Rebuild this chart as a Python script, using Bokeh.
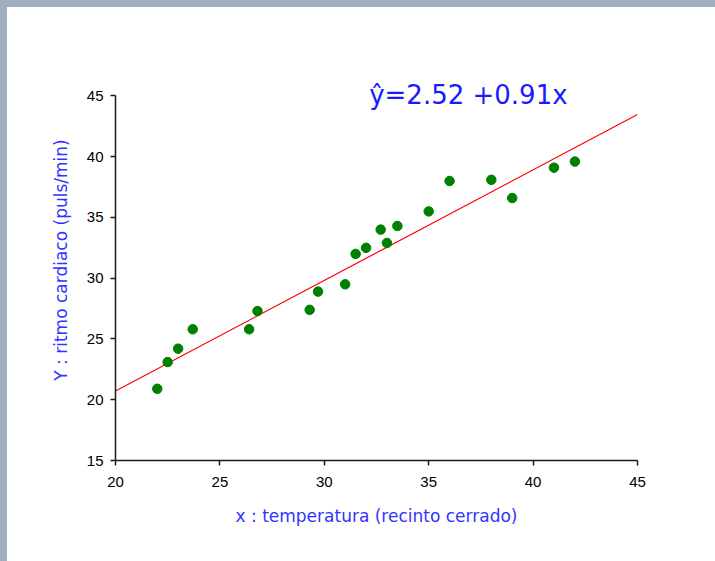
from bokeh.plotting import figure
from bokeh.models import FixedTicker, Label
from bokeh.embed import file_html
from bokeh.resources import INLINE

# Data
temperatura = [22.0, 22.5, 23.0, 23.7, 26.4, 26.8, 29.3, 29.7, 31.0, 31.5,
               32.0, 32.7, 33.0, 33.5, 35.0, 36.0, 38.0, 39.0, 41.0, 42.0]
ritmo = [20.9, 23.1, 24.2, 25.8, 25.8, 27.3, 27.4, 28.9, 29.5, 32.0,
         32.5, 34.0, 32.9, 34.3, 35.5, 38.0, 38.1, 36.6, 39.1, 39.6]
intercept = 2.52
slope = 0.91
x_ticks = [20, 25, 30, 35, 40, 45]
y_ticks = [15, 20, 25, 30, 35, 40, 45]
equation = "\u0177=2.52 +0.91x"
x_label = "x : temperatura (recinto cerrado)"
y_label = "Y : ritmo cardiaco (puls/min)"

p = figure(width=708, height=554, output_backend="svg", toolbar_location=None,
           x_range=(20, 45), y_range=(15, 48),
           min_border_left=108, min_border_right=78,
           min_border_top=52, min_border_bottom=101)
p.outline_line_color = None
p.outline_line_width = 0
p.grid.visible = False
p.background_fill_color = "white"
p.border_fill_color = "white"
p.styles = {"background-color": "white"}

# regression line
line_x = [x_ticks[0], x_ticks[-1]]
line_y = [intercept + slope * v for v in line_x]
p.line(line_x, line_y, line_color="#ff0000", line_width=1.2)

# points
p.scatter(temperatura, ritmo, size=9.5, fill_color="#008000", line_color="#008000")

for ax in (p.xaxis[0], p.yaxis[0]):
    ax.axis_line_color = "#1a1a1a"
    ax.axis_line_width = 1.5
    ax.major_tick_line_color = "#1a1a1a"
    ax.major_tick_line_width = 1.5
    ax.major_tick_in = 0
    ax.major_tick_out = 5
    ax.minor_tick_line_color = None
    ax.major_label_text_font = "Liberation Sans"
    ax.major_label_text_font_size = "15px"
    ax.major_label_text_color = "black"
    ax.axis_label_text_font = "DejaVu Sans"
    ax.axis_label_text_font_size = "17px"
    ax.axis_label_text_font_style = "normal"
    ax.axis_label_text_color = "#3333ff"

p.xaxis.ticker = FixedTicker(ticks=x_ticks)
p.yaxis.ticker = FixedTicker(ticks=y_ticks)
p.yaxis.bounds = (y_ticks[0], y_ticks[-1])
p.xaxis.axis_label = x_label
p.yaxis.axis_label = y_label
p.xaxis.major_label_standoff = 11
p.yaxis.major_label_standoff = 7
p.xaxis.axis_label_standoff = 16
p.yaxis.axis_label_standoff = 13

eq = Label(x=36.9, y=45.1, text=equation, text_align="center",
           text_baseline="alphabetic", text_font="DejaVu Sans",
           text_font_size="26px", text_color="#1a1aff")
p.add_layout(eq)

html = file_html(p, INLINE)
html = html.replace(
    "</head>",
    "<style>body{background:#9fadc1;padding:7px 0 0 7px !important;}</style></head>", 1)
open("out.html", "w").write(html)
